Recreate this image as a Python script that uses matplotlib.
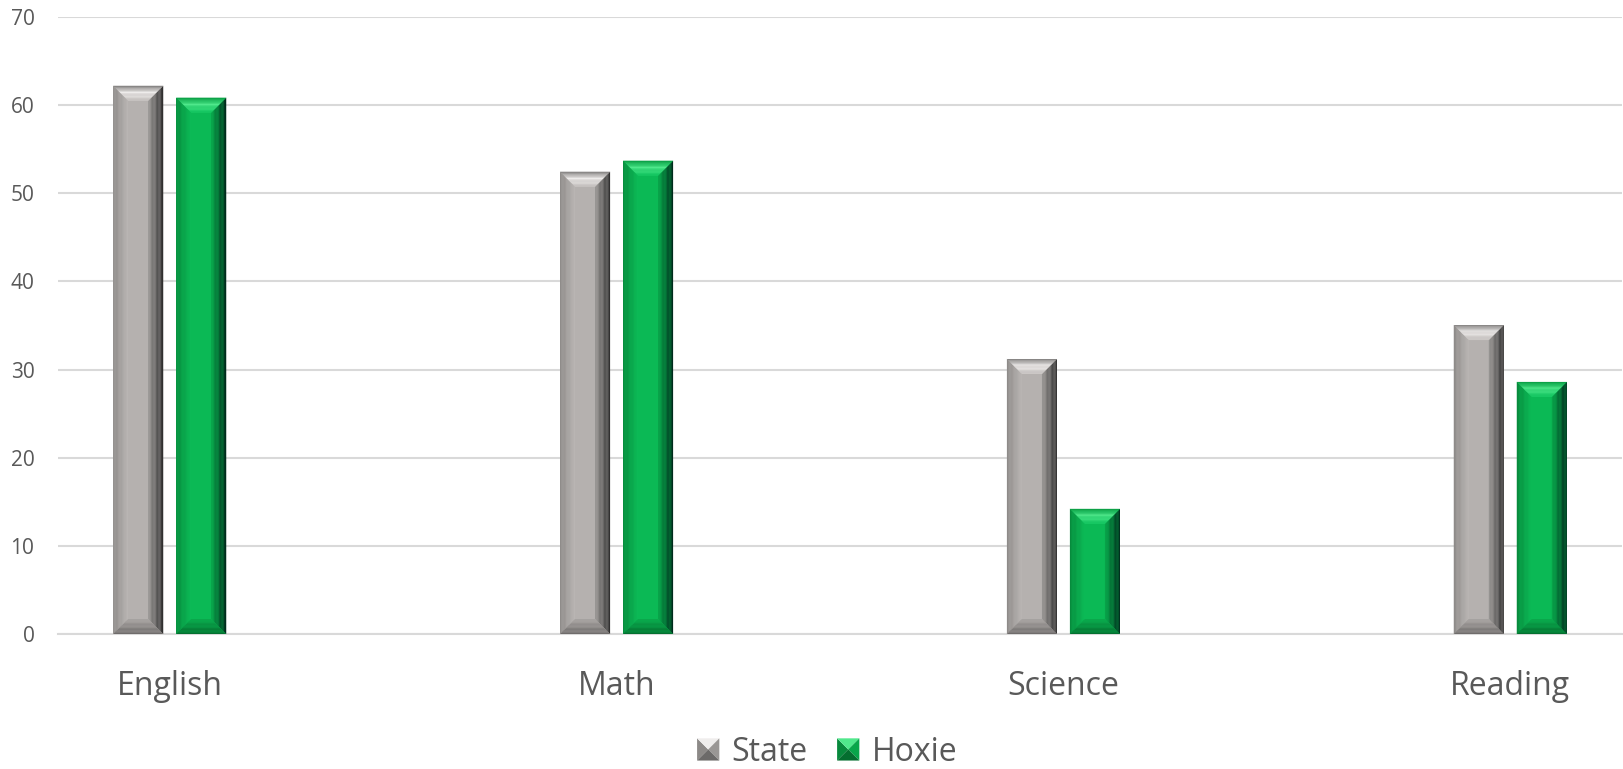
import matplotlib

matplotlib.use("Agg")
import matplotlib.pyplot as plt
import numpy as np
from matplotlib.colors import to_rgb
from matplotlib.legend_handler import HandlerBase
from matplotlib.patches import Polygon

categories = ["English", "Math", "Science", "Reading"]
state = [62.2, 52.45, 31.2, 35.05]
hoxie = [60.85, 53.7, 14.2, 28.6]
series_names = ["State", "Hoxie"]
y_ticks = [0, 10, 20, 30, 40, 50, 60, 70]

TEXT = "#595959"
GRID = "#d9d9d9"

# face colours: outer edge -> inner edge (top face has a highlight in the middle)
STYLES = {
    "State": {
        "main": "#b5b1af",
        "left": ["#8c8987", "#bbb7b5"],
        "right": ["#2c2c2c", "#9a9795"],
        "top": ["#7e7c7b", "#efedec", "#c8c4c2"],
        "bottom": ["#6c6a69", "#a8a4a2"],
    },
    "Hoxie": {
        "main": "#0bb955",
        "left": ["#07893c", "#0cbb57"],
        "right": ["#00261a", "#08a64a"],
        "top": ["#069a40", "#50e88c", "#14c862"],
        "bottom": ["#046e2f", "#0aa94c"],
    },
}

FIG_W, FIG_H, DPI = 16.24, 7.69, 100
AX_L, AX_B, AX_W, AX_H = 58 / 1624, 135 / 769, 1564 / 1624, 617 / 769
XLIM = (-0.25, 3.25)
BAR_W = 0.112
OFFSET = 0.0705
BEVEL_PX = 15


def lerp_colors(stops, t):
    stops = [np.array(to_rgb(c)) for c in stops]
    if len(stops) == 2:
        return tuple(stops[0] + (stops[1] - stops[0]) * t)
    if t < 0.45:
        return tuple(stops[0] + (stops[1] - stops[0]) * t / 0.45)
    return tuple(stops[1] + (stops[2] - stops[1]) * (t - 0.45) / 0.55)


def draw_face(ax, outer, inner, stops, n=12):
    outer = np.array(outer, float)
    inner = np.array(inner, float)
    for k in range(n):
        t0, t1 = k / n, (k + 1) / n
        a = outer + (inner - outer) * t0
        b = outer + (inner - outer) * t1
        poly = [a[0], a[1], b[1], b[0]]
        ax.add_patch(Polygon(poly, closed=True, facecolor=lerp_colors(stops, (t0 + t1) / 2),
                             edgecolor="none", zorder=3))


def draw_bevel_bar(ax, xc, h, style, dx, dy):
    x0, x1 = xc - BAR_W / 2, xc + BAR_W / 2
    ax.bar(xc, h, width=BAR_W, color=style["main"], zorder=2, linewidth=0)
    draw_face(ax, [(x0, 0), (x0, h)], [(x0 + dx, dy), (x0 + dx, h - dy)], style["left"])
    draw_face(ax, [(x1, 0), (x1, h)], [(x1 - dx, dy), (x1 - dx, h - dy)], style["right"])
    draw_face(ax, [(x0, h), (x1, h)], [(x0 + dx, h - dy), (x1 - dx, h - dy)], style["top"])
    draw_face(ax, [(x0, 0), (x1, 0)], [(x0 + dx, dy), (x1 - dx, dy)], style["bottom"])


class BevelHandler(HandlerBase):
    def __init__(self, style):
        super().__init__()
        self.style = style

    def create_artists(self, legend, orig_handle, xdescent, ydescent, width, height,
                       fontsize, trans):
        s = min(width, height) * 0.95
        x0 = -xdescent + (width - s) / 2
        y0 = -ydescent + (height - s) / 2
        c = (x0 + s / 2, y0 + s / 2)
        corners = [(x0, y0), (x0, y0 + s), (x0 + s, y0 + s), (x0 + s, y0)]
        cols = [self.style["left"][0], self.style["top"][1], self.style["right"][1],
                self.style["bottom"][0]]
        arts = []
        for i in range(4):
            tri = Polygon([corners[i], corners[(i + 1) % 4], c], closed=True,
                          facecolor=cols[i], edgecolor="none", transform=trans)
            arts.append(tri)
        return arts


plt.rcParams["font.family"] = ["Open Sans", "DejaVu Sans"]

fig = plt.figure(figsize=(FIG_W, FIG_H), dpi=DPI)
ax = fig.add_axes([AX_L, AX_B, AX_W, AX_H])
ax.set_xlim(*XLIM)
ax.set_ylim(0, 70)

# bevel size in data units
dx = BEVEL_PX / (AX_W * FIG_W * DPI) * (XLIM[1] - XLIM[0])
dy = BEVEL_PX / (AX_H * FIG_H * DPI) * 70

x = np.arange(len(categories))
for i in range(len(categories)):
    draw_bevel_bar(ax, x[i] - OFFSET, state[i], STYLES["State"], dx, dy)
    draw_bevel_bar(ax, x[i] + OFFSET, hoxie[i], STYLES["Hoxie"], dx, dy)

ax.set_yticks(y_ticks)
ax.yaxis.grid(True, color=GRID, linewidth=1.5, zorder=0)
ax.set_axisbelow(True)
for side in ["top", "right", "left"]:
    ax.spines[side].set_visible(False)
ax.spines["bottom"].set_color(GRID)
ax.spines["bottom"].set_linewidth(1.5)
ax.spines["bottom"].set_zorder(1)

ax.set_xticks(x)
ax.set_xticklabels(categories, fontsize=23, color=TEXT)
ax.tick_params(axis="x", length=0, pad=26)
ax.tick_params(axis="y", length=0, pad=17, labelsize=15, labelcolor=TEXT)

handles = [Polygon([(0, 0)], label=n) for n in series_names]
fig.legend(handles, series_names, loc="center", bbox_to_anchor=(0.509, 0.022), ncol=2,
           frameon=False, fontsize=23, labelcolor=TEXT, handlelength=0.75, handleheight=0.75,
           handletextpad=0.35, columnspacing=0.9,
           handler_map={handles[0]: BevelHandler(STYLES["State"]),
                        handles[1]: BevelHandler(STYLES["Hoxie"])})

fig.savefig("out.png", dpi=DPI)
